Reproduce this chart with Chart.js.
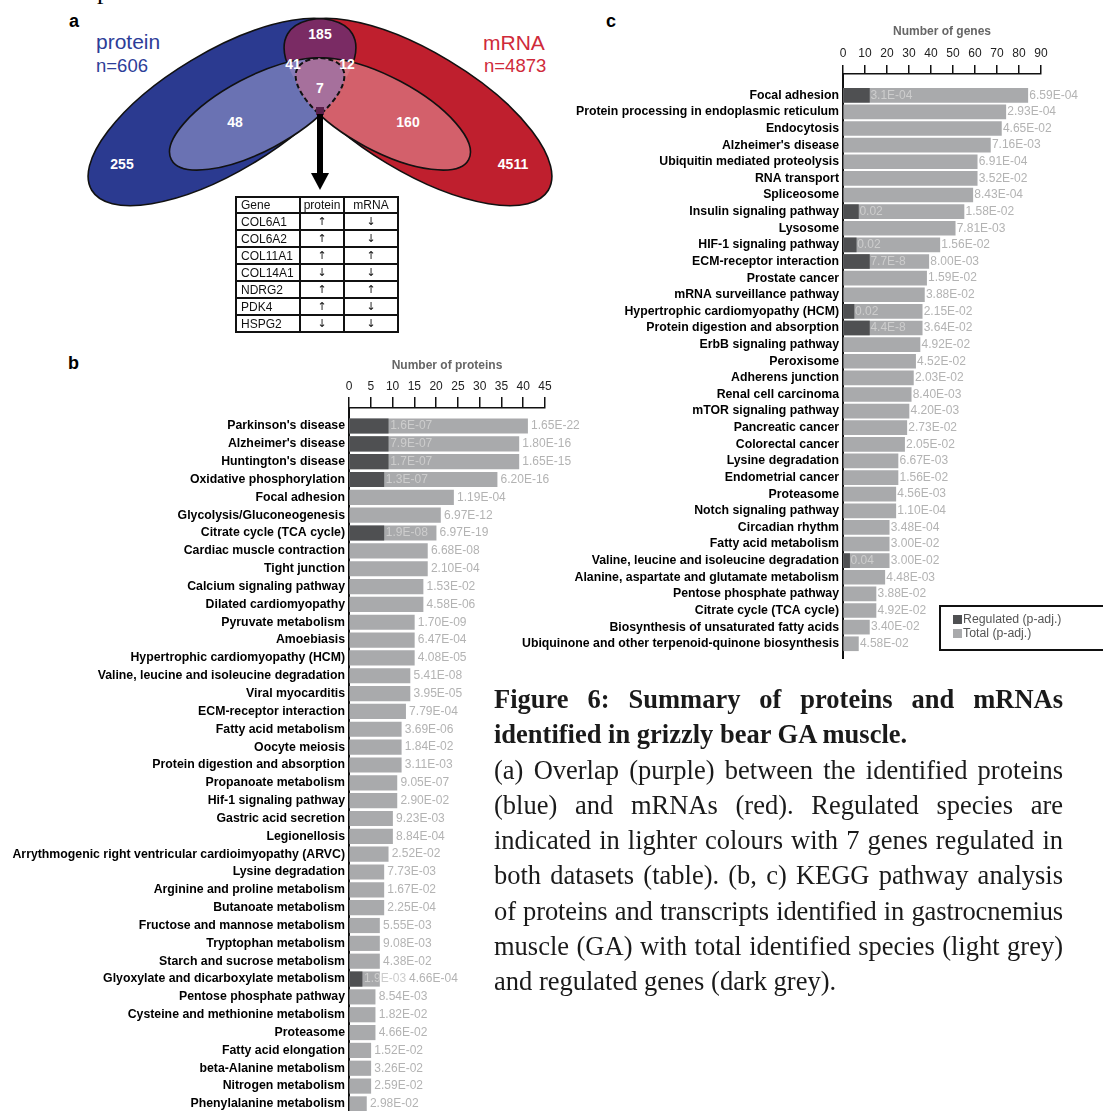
<!DOCTYPE html>
<html>
<head>
<meta charset="utf-8">
<title>Figure 6</title>
<script src="https://cdn.jsdelivr.net/npm/chart.js@4.4.1/dist/chart.umd.min.js"></script>
<style>
  html, body { margin: 0; padding: 0; background: #fff; }
  body { position: relative; width: 1103px; height: 1111px; overflow: hidden;
         font-family: "Liberation Sans", Arial, sans-serif; }
  .abs { position: absolute; }
  #figure { left: 0; top: 0; }
  #geneTable { left: 235px; top: 196px; border-collapse: collapse; table-layout: fixed;
               font-size: 12px; color: #111; background: #fff; opacity: 0.995; }
  #geneTable td { border: 2px solid #111; padding: 0 0 0 4px; height: 14.3px; line-height: 14px;
                  white-space: nowrap; color: #111; }
  #geneTable td.dir { text-align: center; padding: 0; }
  #geneTable .arr { font-family: "DejaVu Sans", sans-serif; font-size: 11px; color: #111; }
  .chart-box { position: absolute; }
  #legendC { left: 939px; top: 605px; width: 180px; height: 42px; border: 2px solid #111;
             font-size: 12.3px; color: #555; }
  .leg-item { position: absolute; left: 12px; height: 14px; line-height: 14px; white-space: nowrap; }
  .leg-swatch { display: inline-block; width: 9px; height: 9px; margin-right: 1px; vertical-align: -1px; }
  #caption { left: 494px; top: 682px; width: 569px; color: #1a1a1a;
             font-family: "Liberation Serif", "Times New Roman", serif; font-size: 26.5px; }
  .cl { height: 35.3px; line-height: 35.3px; white-space: nowrap; }
  .cl.b { font-weight: bold; }
  .cl.j { text-align: justify; text-align-last: justify; }
  #cut { left: 97px; top: -22px; font-family: "Liberation Serif", serif; font-size: 26px; line-height: 26px; }
</style>
</head>
<body>
<div id="cut" class="abs">p</div>
<svg id="figure" class="abs" width="1103" height="1111"></svg>
<table id="geneTable" class="abs">
  <colgroup><col style="width:64px"><col style="width:44px"><col style="width:54px"></colgroup>
  <tbody></tbody>
</table>
<div class="chart-box" style="left:0;top:358px;width:600px;height:764px"><canvas id="chartB"></canvas></div>
<div class="chart-box" style="left:500px;top:24px;width:603px;height:635px"><canvas id="chartC"></canvas></div>
<div id="legendC" class="abs"></div>
<div id="caption" class="abs">
  <div class="cl b j">Figure 6: Summary of proteins and mRNAs</div>
  <div class="cl b">identified in grizzly bear GA muscle.</div>
  <div class="cl j">(a) Overlap (purple) between the identified proteins</div>
  <div class="cl j">(blue) and mRNAs (red). Regulated species are</div>
  <div class="cl j">indicated in lighter colours with 7 genes regulated in</div>
  <div class="cl j">both datasets (table). (b, c) KEGG pathway analysis</div>
  <div class="cl j" style="letter-spacing:-0.12px">of proteins and transcripts identified in gastrocnemius</div>
  <div class="cl j">muscle (GA) with total identified species (light grey)</div>
  <div class="cl">and regulated genes (dark grey).</div>
</div>

<script>
// ---------------------------------------------------------------------------
// Data
// ---------------------------------------------------------------------------
const vennSets   = ["protein", "mRNA"];
const vennTotals = [606, 4873];
// protein only, protein regulated, overlap/prot-reg, both regulated, overlap/mRNA-reg, overlap, mRNA regulated, mRNA only
const vennCounts = [255, 48, 41, 7, 12, 185, 160, 4511];

const tableGenes   = ["COL6A1", "COL6A2", "COL11A1", "COL14A1", "NDRG2", "PDK4", "HSPG2"];
const tableProtein = ["↑", "↑", "↑", "↓", "↑", "↑", "↓"];
const tableMrna    = ["↓", "↓", "↑", "↓", "↑", "↓", "↓"];

// (b) proteins
const bPathways = [
  "Parkinson's disease", "Alzheimer's disease", "Huntington's disease", "Oxidative phosphorylation",
  "Focal adhesion", "Glycolysis/Gluconeogenesis", "Citrate cycle (TCA cycle)", "Cardiac muscle contraction",
  "Tight junction", "Calcium signaling pathway", "Dilated cardiomyopathy", "Pyruvate metabolism",
  "Amoebiasis", "Hypertrophic cardiomyopathy (HCM)", "Valine, leucine and isoleucine degradation",
  "Viral myocarditis", "ECM-receptor interaction", "Fatty acid metabolism", "Oocyte meiosis",
  "Protein digestion and absorption", "Propanoate metabolism", "Hif-1 signaling pathway",
  "Gastric acid secretion", "Legionellosis", "Arrythmogenic right ventricular cardioimyopathy (ARVC)",
  "Lysine degradation", "Arginine and proline metabolism", "Butanoate metabolism",
  "Fructose and mannose metabolism", "Tryptophan metabolism", "Starch and sucrose metabolism",
  "Glyoxylate and dicarboxylate metabolism", "Pentose phosphate pathway", "Cysteine and methionine metabolism",
  "Proteasome", "Fatty acid elongation", "beta-Alanine metabolism", "Nitrogen metabolism",
  "Phenylalanine metabolism",
];
const bTotal = [41, 39, 39, 34, 24, 21, 20, 18, 18, 17, 17, 15, 15, 15, 14, 14, 13, 12, 12, 12,
                11, 11, 10, 10, 9, 8, 8, 8, 7, 7, 7, 7, 6, 6, 6, 5, 5, 5, 4];
const bRegulated = [9, 9, 9, 8, null, null, 8, null, null, null, null, null, null, null, null, null, null, null, null, null,
                    null, null, null, null, null, null, null, null, null, null, null, 3, null, null, null, null, null, null, null];
const bTotalP = [
  "1.65E-22", "1.80E-16", "1.65E-15", "6.20E-16", "1.19E-04", "6.97E-12", "6.97E-19", "6.68E-08",
  "2.10E-04", "1.53E-02", "4.58E-06", "1.70E-09", "6.47E-04", "4.08E-05", "5.41E-08", "3.95E-05",
  "7.79E-04", "3.69E-06", "1.84E-02", "3.11E-03", "9.05E-07", "2.90E-02", "9.23E-03", "8.84E-04",
  "2.52E-02", "7.73E-03", "1.67E-02", "2.25E-04", "5.55E-03", "9.08E-03", "4.38E-02", "4.66E-04",
  "8.54E-03", "1.82E-02", "4.66E-02", "1.52E-02", "3.26E-02", "2.59E-02", "2.98E-02",
];
const bRegulatedP = ["1.6E-07", "7.9E-07", "1.7E-07", "1.3E-07", null, null, "1.9E-08", null, null, null, null, null,
                     null, null, null, null, null, null, null, null, null, null, null, null, null, null, null, null,
                     null, null, null, "1.9E-03", null, null, null, null, null, null, null];

// (c) genes
const cPathways = [
  "Focal adhesion", "Protein processing in endoplasmic reticulum", "Endocytosis", "Alzheimer's disease",
  "Ubiquitin mediated proteolysis", "RNA transport", "Spliceosome", "Insulin signaling pathway", "Lysosome",
  "HIF-1 signaling pathway", "ECM-receptor interaction", "Prostate cancer", "mRNA surveillance pathway",
  "Hypertrophic cardiomyopathy (HCM)", "Protein digestion and absorption", "ErbB signaling pathway",
  "Peroxisome", "Adherens junction", "Renal cell carcinoma", "mTOR signaling pathway", "Pancreatic cancer",
  "Colorectal cancer", "Lysine degradation", "Endometrial cancer", "Proteasome", "Notch signaling pathway",
  "Circadian rhythm", "Fatty acid metabolism", "Valine, leucine and isoleucine degradation",
  "Alanine, aspartate and glutamate metabolism", "Pentose phosphate pathway", "Citrate cycle (TCA cycle)",
  "Biosynthesis of unsaturated fatty acids", "Ubiquinone and other terpenoid-quinone biosynthesis",
];
const cTotal = [84, 74, 72, 67, 61, 61, 59, 55, 51, 44, 39, 38, 37, 36, 36, 35, 33, 32, 31, 30, 29, 28,
                25, 25, 24, 24, 21, 21, 21, 19, 15, 15, 12, 7];
const cRegulated = [12, null, null, null, null, null, null, 7, null, 6, 12, null, null, 5, 12, null, null, null,
                    null, null, null, null, null, null, null, null, null, null, 3, null, null, null, null, null];
const cTotalP = [
  "6.59E-04", "2.93E-04", "4.65E-02", "7.16E-03", "6.91E-04", "3.52E-02", "8.43E-04", "1.58E-02",
  "7.81E-03", "1.56E-02", "8.00E-03", "1.59E-02", "3.88E-02", "2.15E-02", "3.64E-02", "4.92E-02",
  "4.52E-02", "2.03E-02", "8.40E-03", "4.20E-03", "2.73E-02", "2.05E-02", "6.67E-03", "1.56E-02",
  "4.56E-03", "1.10E-04", "3.48E-04", "3.00E-02", "3.00E-02", "4.48E-03", "3.88E-02", "4.92E-02",
  "3.40E-02", "4.58E-02",
];
const cRegulatedP = ["3.1E-04", null, null, null, null, null, null, "0.02", null, "0.02", "7.7E-8", null, null,
                     "0.02", "4.4E-8", null, null, null, null, null, null, null, null, null, null, null, null,
                     null, "0.04", null, null, null, null, null];

// ---------------------------------------------------------------------------
// (a) Venn diagram + table
// ---------------------------------------------------------------------------
const ELL = {
  B:   { cx: 222, cy: 112, rx: 152, ry: 60, rot: -31 },
  R:   { cx: 418, cy: 112, rx: 152, ry: 60, rot: 31 },
  bIn: { cx: 257, cy: 114, rx: 97,  ry: 37, rot: -28 },
  rIn: { cx: 383, cy: 114, rx: 97,  ry: 37, rot: 28 },
};
const COUNT_POS = [[122, 164], [235, 122], [293, 64], [320, 88], [347, 64], [320, 34], [408, 122], [513, 164]];

const ell = (e, attrs = "") =>
  `<ellipse cx="${e.cx}" cy="${e.cy}" rx="${e.rx}" ry="${e.ry}" transform="rotate(${e.rot} ${e.cx} ${e.cy})" ${attrs}/>`;

function drawVenn() {
  const stroke = 'fill="none" stroke="#111" stroke-width="1.6"';
  const dashed = 'fill="none" stroke="#111" stroke-width="2" stroke-dasharray="5 3"';
  const txt = (x, y, s, extra) => `<text x="${x}" y="${y}" ${extra}>${s}</text>`;
  const numStyle = 'fill="#fff" font-weight="bold" font-size="14" text-anchor="middle" dominant-baseline="central"';

  document.getElementById("figure").innerHTML = `
    <defs>
      <clipPath id="cB">${ell(ELL.B)}</clipPath>
      <clipPath id="cR">${ell(ELL.R)}</clipPath>
      <clipPath id="cBin">${ell(ELL.bIn)}</clipPath>
      <clipPath id="cRin">${ell(ELL.rIn)}</clipPath>
      <mask id="mNotRin"><rect width="700" height="300" fill="#fff"/>${ell(ELL.rIn, 'fill="#000"')}</mask>
      <mask id="mNotBin"><rect width="700" height="300" fill="#fff"/>${ell(ELL.bIn, 'fill="#000"')}</mask>
    </defs>
    <g font-family="Liberation Sans, Arial, sans-serif">
      ${ell(ELL.B, 'fill="#2b3a90"')}
      ${ell(ELL.R, 'fill="#bf1f2e"')}
      <g clip-path="url(#cR)">${ell(ELL.B, 'fill="#7a2b64"')}</g>
      ${ell(ELL.B, stroke)}
      ${ell(ELL.R, stroke)}
      ${ell(ELL.bIn, 'fill="#6a72b3"')}
      ${ell(ELL.rIn, 'fill="#d3606b"')}
      <g clip-path="url(#cR)">${ell(ELL.bIn, 'fill="#857cba"')}</g>
      <g clip-path="url(#cB)">${ell(ELL.rIn, 'fill="#d4717d"')}</g>
      <g clip-path="url(#cRin)">${ell(ELL.bIn, 'fill="#a6709c"')}</g>
      <g mask="url(#mNotRin)">${ell(ELL.bIn, stroke)}</g>
      <g mask="url(#mNotBin)">${ell(ELL.rIn, stroke)}</g>
      <g clip-path="url(#cRin)">${ell(ELL.bIn, dashed)}</g>
      <g clip-path="url(#cBin)">${ell(ELL.rIn, dashed)}</g>
      <rect x="316" y="107" width="8" height="8" fill="#5a1f4a"/>
      <rect x="317" y="114" width="6" height="62" fill="#000"/>
      <polygon points="311,173 329,173 320,190" fill="#000"/>
      ${vennCounts.map((n, i) => txt(COUNT_POS[i][0], COUNT_POS[i][1], n, numStyle)).join("")}
      ${txt(96, 49, vennSets[0], 'fill="#2d3d98" font-size="21"')}
      ${txt(96, 72, "n=" + vennTotals[0], 'fill="#2d3d98" font-size="18.5"')}
      ${txt(483, 50, vennSets[1], 'fill="#cf2a3a" font-size="21"')}
      ${txt(484, 72, "n=" + vennTotals[1], 'fill="#cf2a3a" font-size="18.5"')}
      ${txt(69, 27, "a", 'fill="#000" font-weight="bold" font-size="18"')}
      ${txt(68, 369, "b", 'fill="#000" font-weight="bold" font-size="18"')}
      ${txt(606, 27, "c", 'fill="#000" font-weight="bold" font-size="18"')}
    </g>`;
}

function fillTable() {
  const arr = s => `<span class="arr">${s}</span>`;
  const rows = [`<tr><td>Gene</td><td class="dir">protein</td><td class="dir">mRNA</td></tr>`]
    .concat(tableGenes.map((g, i) =>
      `<tr><td>${g}</td><td class="dir">${arr(tableProtein[i])}</td><td class="dir">${arr(tableMrna[i])}</td></tr>`));
  document.querySelector("#geneTable tbody").innerHTML = rows.join("");
}

// ---------------------------------------------------------------------------
// (b, c) KEGG bar charts
// ---------------------------------------------------------------------------
Chart.defaults.font.family = '"Liberation Sans", Arial, sans-serif';
const REG_COLOR = "#4f5052";
const TOT_COLOR = "#a9aaac";

/** p-value text after each bar; regulated value sits inside the light bar. */
const valueLabels = {
  id: "valueLabels",
  afterDatasetsDraw(chart, args, opts) {
    const { ctx } = chart;
    const regSet = chart.data.datasets[0].data;
    const regEnd = {};
    ctx.save();
    ctx.font = '12px "Liberation Sans", Arial, sans-serif';
    ctx.textBaseline = "middle";
    chart.getDatasetMeta(0).data.forEach((bar, k) => {
      const i = regSet[k].y;
      const s = opts.regulatedP[i];
      ctx.fillStyle = "#cdcdcd";
      ctx.fillText(s, bar.x + opts.regGap, bar.y);
      regEnd[i] = bar.x + opts.regGap + ctx.measureText(s).width;
    });
    chart.getDatasetMeta(1).data.forEach((bar, i) => {
      const x = Math.max(bar.x + opts.totGap, (regEnd[i] || 0) + 3);
      ctx.fillStyle = "#b3b3b3";
      ctx.fillText(opts.totalP[i], x, bar.y);
    });
    ctx.restore();
  },
};

function buildPathwayChart(canvasId, s) {
  const regPoints = s.regulated.map((v, i) => (v == null ? null : { x: v, y: i })).filter(Boolean);
  return new Chart(document.getElementById(canvasId), {
    type: "bar",
    data: {
      datasets: [
        { label: "Regulated (p-adj.)", data: regPoints, backgroundColor: REG_COLOR, order: 0 },
        { label: "Total (p-adj.)", data: s.total.map((v, i) => ({ x: v, y: i })), backgroundColor: TOT_COLOR, order: 1 },
      ],
    },
    options: {
      indexAxis: "y",
      responsive: true,
      maintainAspectRatio: false,
      animation: false,
      events: [],
      layout: { padding: { top: 0, left: 0, bottom: 0, right: s.padRight } },
      datasets: { bar: { grouped: false, barThickness: s.barThickness, borderWidth: 0 } },
      plugins: {
        legend: { display: false },
        tooltip: { enabled: false },
        valueLabels: { totalP: s.totalP, regulatedP: s.regulatedP, regGap: s.regGap, totGap: s.totGap },
      },
      scales: {
        x: {
          type: "linear", position: "top", min: 0, max: s.xMax,
          ticks: { stepSize: s.xStep, padding: s.tickPad, color: "#222", font: { size: 12 } },
          grid: { drawOnChartArea: false, drawTicks: true, tickLength: s.tickLength, color: "#111", lineWidth: 1.5 },
          border: { display: true, color: "#111", width: 1.5 },
          title: { display: true, text: s.xTitle, color: "#666", font: { size: 12, weight: "bold" }, padding: 0 },
          afterFit: sc => { sc.height = 50; },
        },
        y: {
          type: "linear", reverse: true, min: -1, max: s.rows,
          afterBuildTicks: sc => { sc.ticks = s.labels.map((_, i) => ({ value: i })); },
          ticks: { autoSkip: false, padding: 4, color: "#000", font: { size: 12.3, weight: "bold" },
                   callback: v => s.labels[v] },
          grid: { display: false, drawTicks: false },
          border: { display: true, color: "#111", width: 2 },
          afterFit: sc => { sc.width = s.yWidth; sc.paddingTop = 0; sc.paddingBottom = 0; },
        },
      },
    },
    plugins: [valueLabels],
  });
}

/** Re-range the row axis so row 0 sits at firstCenter and rows are `band` px apart. */
function alignRows(chart, boxTop, firstCenter, band) {
  const sc = chart.scales.y;
  const p0 = boxTop + sc.getPixelForValue(0);
  const k = boxTop + sc.getPixelForValue(1) - p0;
  const startAbs = p0 + sc.min * k;
  const endAbs = p0 + sc.max * k;
  chart.options.scales.y.min = (startAbs - firstCenter) / band;
  chart.options.scales.y.max = (endAbs - firstCenter) / band;
  chart.update();
}

drawVenn();
fillTable();

const chartB = buildPathwayChart("chartB", {
  labels: bPathways, total: bTotal, regulated: bRegulated, totalP: bTotalP, regulatedP: bRegulatedP,
  xMax: 45, xStep: 5, xTitle: "Number of proteins", tickLength: 11, tickPad: 3, rows: 39,
  yWidth: 349, padRight: 55, barThickness: 14.5, regGap: 2, totGap: 3.5,
});
alignRows(chartB, 358, 426, 17.84);

const chartC = buildPathwayChart("chartC", {
  labels: cPathways, total: cTotal, regulated: cRegulated, totalP: cTotalP, regulatedP: cRegulatedP,
  xMax: 90, xStep: 10, xTitle: "Number of genes", tickLength: 9, tickPad: 4, rows: 34,
  yWidth: 343, padRight: 62, barThickness: 14, regGap: 1, totGap: 1.5,
});
alignRows(chartC, 24, 95.3, 16.62);

// legend for (c), taken from the chart's datasets
document.getElementById("legendC").innerHTML = chartC.data.datasets.map((ds, i) =>
  `<div class="leg-item" style="top:${5 + i * 14}px"><span class="leg-swatch" style="background:${ds.backgroundColor}"></span>${ds.label}</div>`
).join("");
</script>
</body>
</html>
